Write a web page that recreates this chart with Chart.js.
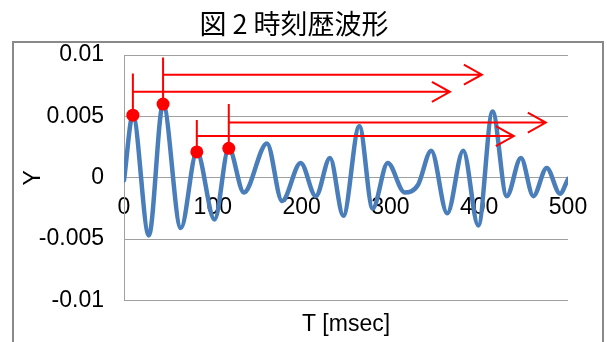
<!DOCTYPE html>
<html>
<head>
<meta charset="utf-8">
<script src="https://cdn.jsdelivr.net/npm/chart.js@4"></script>
<style>body{margin:0;background:#fff}</style>
</head>
<body>
<canvas id="waveChart" width="607" height="342"></canvas>
<script>
// waveform (msec, Y)
const times = [0, 10, 28, 44, 64, 82, 102, 118, 135, 161, 178, 199, 216, 232, 247, 265, 280, 297, 316, 331, 346, 364, 382, 399, 415, 431, 447, 461, 476, 491, 500];
const values = [-0.0002, 0.0051, -0.0047, 0.0060, -0.0041, 0.0021, -0.0034, 0.0024, -0.0012, 0.0028, -0.0019, 0.0012, -0.0015, 0.0016, -0.0031, 0.0042, -0.0025, 0.0012, -0.0012, -0.0006, 0.0022, -0.0029, 0.0022, -0.0039, 0.0054, -0.0015, 0.0016, -0.0015, 0.0008, -0.0013, -0.0001];

// red marks: peak, stem top, arrow level, arrow end
const markT = [10, 44, 82, 118];
const markY = [0.0051, 0.0060, 0.0021, 0.0024];
const stemTop = [0.0085, 0.0098, 0.0047, 0.0060];
const arrowY = [0.0070, 0.0084, 0.0034, 0.0045];
const arrowEnd = [367, 403, 439, 475];

const xTicks = [0, 100, 200, 300, 400, 500];
const xTickLabels = ['0', '100', '200', '300', '400', '500'];
const yTicks = [-0.01, -0.005, 0, 0.005, 0.01];
const yTickLabels = ['-0.01', '-0.005', '0', '0.005', '0.01'];

const gridColor = '#a0a0a0';
const tickFont = {family: '"Liberation Sans", Arial, sans-serif', size: 23};

const framePlugin = {
    id: 'frame',
    beforeDraw(chart) {
        const c = chart.ctx;
        c.save();
        c.fillStyle = '#fff';
        c.fillRect(0, 0, chart.width, chart.height);
        c.strokeStyle = '#898989';
        c.lineWidth = 2;
        c.strokeRect(13, 42, 590, 340);
        c.restore();
    }
};

const arrowPlugin = {
    id: 'arrows',
    afterDatasetsDraw(chart) {
        const xs = chart.scales.x, ys = chart.scales.y, c = chart.ctx;
        c.save();
        c.strokeStyle = '#ff0000';
        c.lineWidth = 2;
        for (var i = 0; i < markT.length; i++) {
            const x0 = xs.getPixelForValue(markT[i]);
            const x1 = xs.getPixelForValue(arrowEnd[i]);
            const ya = ys.getPixelForValue(arrowY[i]);
            c.beginPath();
            c.moveTo(x0, ys.getPixelForValue(markY[i]));
            c.lineTo(x0, ys.getPixelForValue(stemTop[i]));
            c.moveTo(x0, ya);
            c.lineTo(x1, ya);
            c.moveTo(x1 - 18, ya - 10);
            c.lineTo(x1, ya);
            c.lineTo(x1 - 18, ya + 10);
            c.stroke();
        }
        c.restore();
    }
};

const ctx = document.getElementById('waveChart');
const myChart = new Chart(ctx, {
    type: 'line',
    data: {
        datasets: [{
            label: 'marks',
            data: markT.map((t, i) => ({x: t, y: markY[i]})),
            showLine: false,
            pointRadius: 6.5,
            pointBackgroundColor: '#ff0000',
            pointBorderWidth: 0
        }, {
            label: 'Y',
            data: times.map((t, i) => ({x: t, y: values[i]})),
            borderColor: '#4a7ebb',
            borderWidth: 4.5,
            borderCapStyle: 'round',
            pointRadius: 0,
            cubicInterpolationMode: 'monotone',
            fill: false
        }]
    },
    options: {
        responsive: false,
        animation: false,
        events: [],
        layout: {padding: {left: 20, right: 39, top: 0, bottom: 0}},
        scales: {
            x: {
                type: 'linear',
                position: {y: 0},
                min: 0,
                max: 500,
                z: 1,
                afterBuildTicks: s => { s.ticks = xTicks.map(v => ({value: v})); },
                grid: {display: false, drawTicks: false},
                border: {display: false},
                ticks: {
                    padding: 16,
                    color: '#000',
                    font: tickFont,
                    maxRotation: 0,
                    autoSkip: false,
                    callback: (v, i) => xTickLabels[i]
                }
            },
            x2: {
                type: 'linear',
                position: 'bottom',
                min: 0,
                max: 500,
                grid: {display: false, drawTicks: false},
                border: {display: false},
                ticks: {display: false},
                title: {
                    display: true,
                    text: 'T [msec]',
                    color: '#000',
                    font: tickFont,
                    padding: {top: 10, bottom: 4}
                }
            },
            y: {
                min: -0.01,
                max: 0.01,
                afterBuildTicks: s => { s.ticks = yTicks.map(v => ({value: v})); },
                afterFit: s => { s.width = 104; },
                grid: {color: gridColor, drawTicks: false},
                border: {color: gridColor},
                ticks: {
                    padding: 20,
                    color: '#000',
                    font: tickFont,
                    callback: (v, i) => yTickLabels[i]
                },
                title: {
                    display: true,
                    text: 'Y',
                    color: '#000',
                    font: tickFont,
                    padding: 0
                }
            }
        },
        plugins: {
            title: {
                display: true,
                text: '図 2 時刻歴波形',
                color: '#000',
                font: {family: '"Noto Sans CJK JP", sans-serif', size: 27, weight: 'normal', lineHeight: 1.15},
                padding: {top: 8, bottom: 16}
            },
            tooltip: {enabled: false},
            legend: {display: false}
        }
    },
    plugins: [framePlugin, arrowPlugin]
});
</script>
</body>
</html>
